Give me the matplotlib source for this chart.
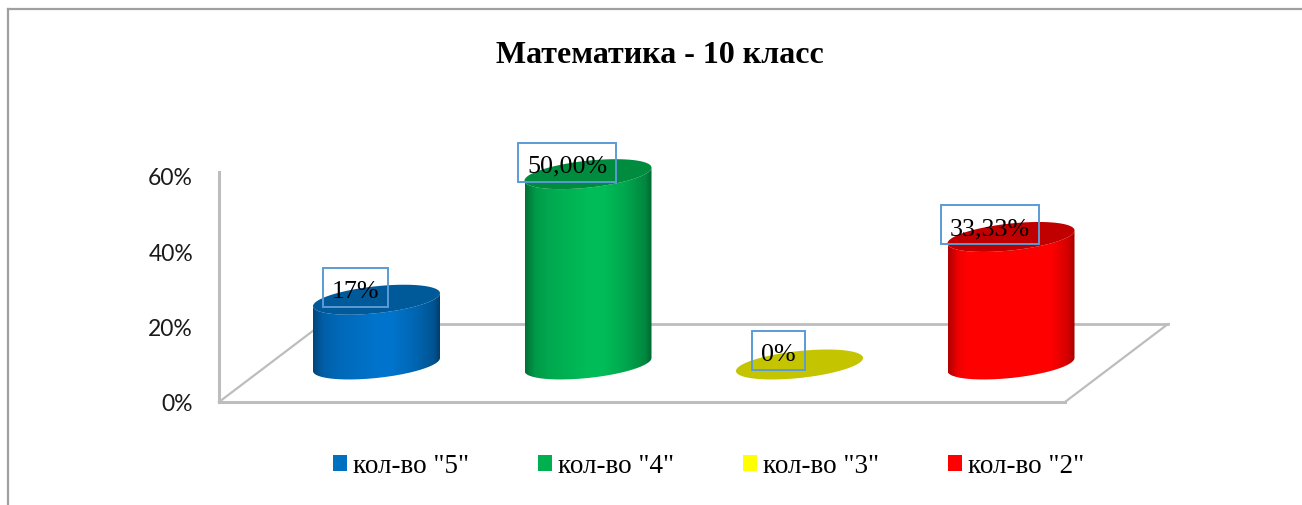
import numpy as np
import matplotlib
matplotlib.use("Agg")
import matplotlib.pyplot as plt
from matplotlib.patches import PathPatch, Rectangle, Patch
from matplotlib.path import Path
from matplotlib.lines import Line2D
from matplotlib.transforms import ScaledTranslation

# ---- data ----
categories = ['кол-во "5"', 'кол-во "4"', 'кол-во "3"', 'кол-во "2"']
values = [16.67, 50.0, 0.0, 33.33]
value_labels = ['17%', '50,00%', '0%', '33,33%']
yticks = [0, 20, 40, 60]
ytick_labels = ['0%', '20%', '40%', '60%']
title = 'Математика - 10 класс'

# ---- styles ----
legend_colors = ['#0070C0', '#00B050', '#FFFF00', '#FF0000']
side_colors = ['#0074CC', '#00BC58', '#FFFF00', '#FF0000']
side_gains = [1.0, 1.0, 1.0, 1.15]
top_colors = ['#005A9A', '#008C3E', '#C4C400', '#C00000']
box_widths_px = [65, 98, 53, 98]
GRID = '#BDBDBD'
SERIF = 'Liberation Serif'

W, H = 1302, 506
fig = plt.figure(figsize=(W / 100, H / 100), dpi=100, facecolor='white')

# axes frame in pixels
AX_L, AX_R, AX_B = 219, 1168, 402
PX_PER_PCT = 226 / 60
PX_PER_CAT = 211.5
AX_T = AX_B - 70 * PX_PER_PCT
ax = fig.add_axes([AX_L / W, 1 - AX_B / H, (AX_R - AX_L) / W, (AX_B - AX_T) / H])
ax.patch.set_alpha(0)
x_lo = -(376.5 - AX_L) / PX_PER_CAT
x_hi = x_lo + (AX_R - AX_L) / PX_PER_CAT


def dx(px):
    return px / PX_PER_CAT


def dy(px):
    return px / PX_PER_PCT


# floor (3D plane)
depth_y = dy(77)
depth_x = dx(103)
front_r = x_hi - depth_x
ax.plot([x_lo, x_lo + depth_x], [dy(-1), depth_y], color=GRID, lw=1.6, zorder=1, clip_on=False)
ax.plot([x_lo + depth_x, x_hi], [depth_y, depth_y], color=GRID, lw=2, zorder=1, clip_on=False)
ax.plot([x_hi, front_r], [depth_y, dy(-1)], color=GRID, lw=1.6, zorder=1, clip_on=False)
ax.plot([x_lo, front_r], [dy(-1), dy(-1)], color=GRID, lw=2.2, zorder=1, clip_on=False)
ax.plot([x_lo, x_lo], [dy(-1), 60.8], color=GRID, lw=2.2, zorder=1, clip_on=False)

# cylinders
A = dx(63.5)
B = dy(13.5)
K = dy(6.5)
BASE = dy(36.5)
TOP_LIFT = dy(2)
t = np.linspace(0, 2 * np.pi, 181)
profile_pos = [0, 0.08, 0.2, 0.5, 0.62, 0.8, 0.95, 1]
profile_val = [0.6, 0.82, 0.9, 1.0, 1.0, 0.88, 0.72, 0.55]
grad_x = np.linspace(0, 1, 256)
shade = np.interp(grad_x, profile_pos, profile_val)


def ellipse(cx, cy, tt):
    return np.column_stack([cx + A * np.cos(tt), cy + B * np.sin(tt) + K * np.cos(tt)])


for i, v in enumerate(values):
    level = BASE + v
    top_y = level + (TOP_LIFT if v > 0 else 0)
    if v > 0:
        low = ellipse(i, BASE, np.linspace(np.pi, 2 * np.pi, 91))
        up = ellipse(i, top_y, np.linspace(2 * np.pi, np.pi, 91))
        verts = np.vstack([low, up, low[:1]])
        body = PathPatch(Path(verts), facecolor='none', edgecolor='none', zorder=2)
        ax.add_patch(body)
        rgb = np.array(matplotlib.colors.to_rgb(side_colors[i]))
        img = np.clip(side_gains[i] * shade[:, None] * rgb, 0, 1)[None, :, :]
        im = ax.imshow(img, extent=[i - A, i + A, BASE - B - K, top_y + B + K],
                       aspect='auto', zorder=2, interpolation='bilinear')
        im.set_clip_path(body)
    ax.add_patch(PathPatch(Path(ellipse(i, top_y, t)), facecolor=top_colors[i],
                           edgecolor='none', zorder=3))
    # data label with its box
    bw = dx(box_widths_px[i])
    bx = i - dx(21)
    by = level - dy(5.5)
    ax.add_patch(Rectangle((bx - bw / 2, by), bw, dy(39), facecolor='none',
                           edgecolor='#5B9BD5', lw=1.4, zorder=4))
    ax.text(bx, by + dy(10), value_labels[i], ha='center', va='baseline',
            family=SERIF, fontsize=18.7, color='black', zorder=5)

ax.set_xlim(x_lo, x_hi)
ax.set_ylim(0, 70)
for s in ax.spines.values():
    s.set_visible(False)
ax.set_xticks([])
ax.set_yticks(yticks)
ax.set_yticklabels(ytick_labels, family='Lato', fontsize=16.5, color='#1a1a1a')
ax.tick_params(axis='y', length=0, pad=18.7)
down_1px = ScaledTranslation(0, -1 / 100, fig.dpi_scale_trans)
for lab in ax.get_yticklabels():
    lab.set_transform(lab.get_transform() + down_1px)

# title
fig.text(660 / W, 1 - 63 / H, title, ha='center', va='baseline', family=SERIF,
         fontweight='bold', fontsize=23, color='black')

# legend
handles = [Patch(facecolor=c, edgecolor='none') for c in legend_colors]
fs = 19.5
em = fs * 100 / 72
fig.legend(handles, categories, ncols=4, frameon=False,
           loc='center left', bbox_to_anchor=(333 / W, 1 - 467 / H),
           borderaxespad=0, borderpad=0,
           prop={'family': SERIF, 'size': fs},
           handlelength=14 / em, handleheight=14 / em,
           handletextpad=6 / em, columnspacing=69 / em, labelcolor='black')

# outer frame: only the top and left edges are visible
fig.add_artist(Line2D([8 / W, 1], [1 - 10 / H, 1 - 10 / H], color='#A0A0A0', lw=1.6, transform=fig.transFigure))
fig.add_artist(Line2D([8 / W, 8 / W], [1 - 10 / H, 0], color='#A0A0A0', lw=1.6, transform=fig.transFigure))

fig.savefig('out.png', dpi=100, facecolor='white')
